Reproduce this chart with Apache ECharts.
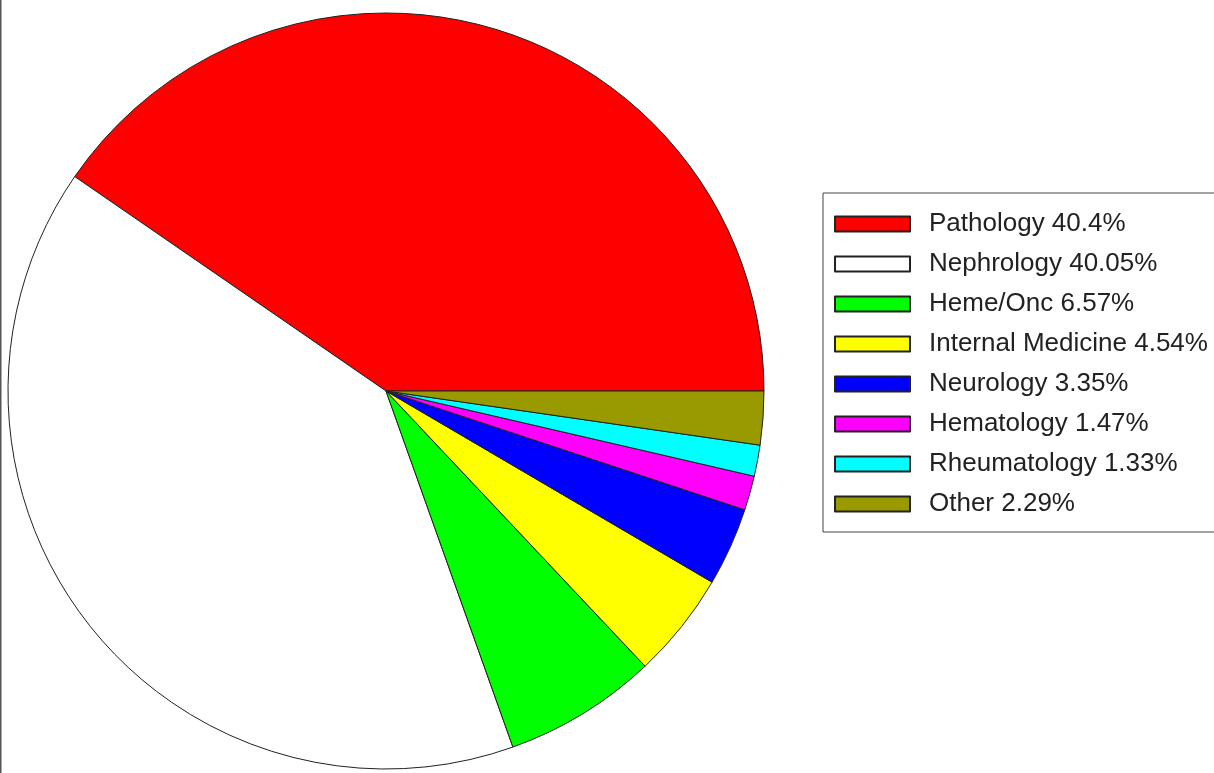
<!DOCTYPE html>
<html>
<head>
<meta charset="utf-8">
<script src="https://cdn.jsdelivr.net/npm/echarts@6/dist/echarts.min.js"></script>
<style>
  html, body { margin: 0; padding: 0; background: #fff; }
  #main { width: 1214px; height: 773px; }
</style>
</head>
<body>
<div id="main"></div>
<script>
var categories = ['Pathology', 'Nephrology', 'Heme/Onc', 'Internal Medicine', 'Neurology', 'Hematology', 'Rheumatology', 'Other'];
var shares = [40.4, 40.05, 6.57, 4.54, 3.35, 1.47, 1.33, 2.29];
var sliceColors = ['#ff0000', '#ffffff', '#00ff00', '#ffff00', '#0000ff', '#ff00ff', '#00ffff', '#999900'];

var chart = echarts.init(document.getElementById('main'), null, { renderer: 'canvas' });

var pieData = [];
for (var i = 0; i < categories.length; i++) {
  pieData.push({
    name: categories[i],
    value: shares[i],
    itemStyle: { color: sliceColors[i] }
  });
}

var option = {
  backgroundColor: '#fff',
  animation: false,
  legend: {
    orient: 'vertical',
    left: 823,
    top: 193,
    padding: [18, 40, 15, 11],
    borderColor: '#444',
    borderWidth: 1,
    icon: 'rect',
    itemWidth: 75,
    itemHeight: 15,
    itemGap: 14,
    selectedMode: false,
    textStyle: {
      fontFamily: 'Liberation Sans, Arial, sans-serif',
      fontSize: 26,
      lineHeight: 26,
      color: '#222',
      padding: [0, 0, 0, 14]
    },
    formatter: function (name) {
      return name + ' ' + shares[categories.indexOf(name)] + '%';
    },
    data: categories
  },
  graphic: [{
    type: 'line',
    shape: { x1: 0.5, y1: 0, x2: 0.5, y2: 773 },
    style: { stroke: '#555', lineWidth: 2 }
  }],
  series: [{
    type: 'pie',
    center: [386, 391],
    radius: [0, 378],
    startAngle: 0,
    clockwise: false,
    avoidLabelOverlap: false,
    label: { show: false },
    labelLine: { show: false },
    emphasis: { disabled: true },
    itemStyle: { borderColor: '#222', borderWidth: 1 },
    data: pieData
  }]
};

chart.setOption(option);
</script>
</body>
</html>
